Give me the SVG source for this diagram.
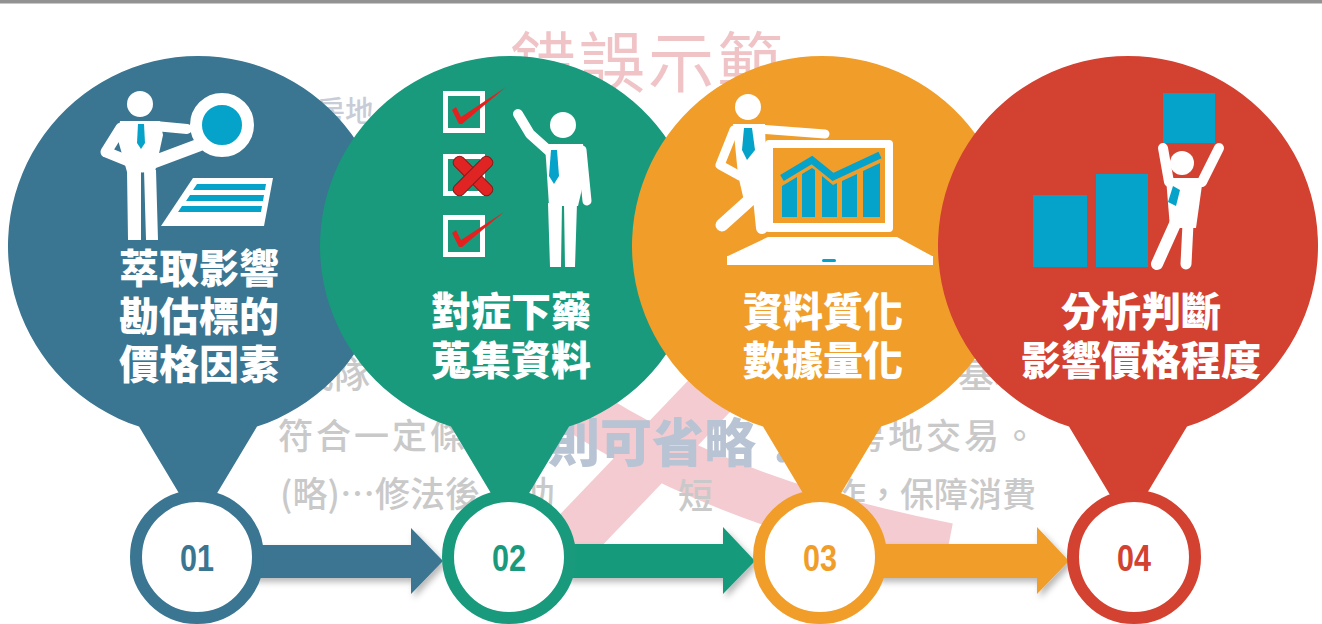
<svg xmlns="http://www.w3.org/2000/svg" width="1322" height="624" viewBox="0 0 1322 624">
  <defs>
    <style>
      .lbl { font-family: "Noto Sans CJK TC", "Noto Sans CJK SC", sans-serif; font-weight: 900; font-size: 40px; fill: #ffffff; text-anchor: middle; }
      .num { font-family: "Liberation Sans", Arial, sans-serif; font-weight: 700; font-size: 36px; text-anchor: middle; }
      .bg { font-family: "Noto Sans CJK TC", "Noto Sans CJK SC", sans-serif; font-weight: 500; fill: #c9c9c9; }
      .ring { fill: #ffffff; stroke-width: 12; }
      .w { fill: #ffffff; }
      .ws { fill: none; stroke: #ffffff; stroke-linecap: round; stroke-linejoin: round; }
      .acc { fill: #05a2c9; }
      .chk { fill: #e5211f; }
    </style>
    <filter id="shadow" x="-10%" y="-30%" width="130%" height="180%">
      <feDropShadow dx="3" dy="4" stdDeviation="3" flood-color="#000000" flood-opacity="0.28"/>
    </filter>
    <!-- balloon outline: circle plus a tapering tail, drawn around x = 0 -->
    <path id="balloon" d="M -59,426.6 L 0,525 L 59,426.6 A 190 190 0 1 0 -59,426.6 Z"/>
  </defs>

  <rect width="1322" height="624" fill="#ffffff"/>
  <rect x="0" y="0" width="1322" height="3.5" fill="#929292"/>

  <!-- faded backdrop -->
  <g id="backdrop">
    <path d="M 560,552 L 805,296" stroke="#f3cbd0" stroke-width="52" fill="none"/>
    <path d="M 545,385 Q 700,500 948,548" stroke="#f3cbd0" stroke-width="50" fill="none"/>
    <text x="510" y="87" font-family="Noto Sans CJK TC, Noto Sans CJK SC, sans-serif" font-size="66" letter-spacing="3" fill="#f0c4c7">錯誤示範</text>
    <text class="bg" x="316" y="122" font-size="29" style="fill:#c7ccd6">房地</text>
    <text class="bg" x="298" y="388" font-size="36">成隊</text>
    <text class="bg" x="958" y="388" font-size="36">基地</text>
    <text class="bg" x="278" y="449" font-size="35" letter-spacing="3">符合一定條</text>
    <text x="548" y="462" font-family="Noto Sans CJK TC, Noto Sans CJK SC, sans-serif" font-weight="900" font-size="52" fill="#b8c3d3">則可省略！</text>
    <text class="bg" x="812" y="449" font-size="35" letter-spacing="3">的房地交易。</text>
    <text class="bg" x="280" y="507" font-size="35">(略)…修法後</text>
    <text class="bg" x="520" y="507" font-size="35">助</text>
    <text class="bg" x="678" y="509" font-size="35">短</text>
    <text class="bg" x="832" y="507" font-size="34">作，保障消費</text>
  </g>

  <!-- connectors between the numbered rings -->
  <g id="connectors" filter="url(#shadow)">
    <path d="M 250,545 L 411,545 L 411,528 L 443,561 L 411,594 L 411,578 L 250,578 Z" fill="#3a7591"/>
    <path d="M 565,544 L 723,544 L 723,527 L 755,561 L 723,594 L 723,578 L 565,578 Z" fill="#199a7c"/>
    <path d="M 876,544 L 1037,544 L 1037,527 L 1069,561 L 1037,594 L 1037,578 L 876,578 Z" fill="#f09d2a"/>
  </g>

  <!-- step 1 -->
  <g id="step-1">
    <use href="#balloon" transform="translate(198,0)" fill="#3a7591"/>
    <circle class="ring" cx="197" cy="557" r="61" stroke="#3a7591"/>
    <text class="num" x="197" y="571" fill="#3a7591" textLength="34" lengthAdjust="spacingAndGlyphs">01</text>
    <!-- man with magnifier -->
    <circle class="w" cx="140" cy="104" r="13"/>
    <path class="w" d="M120,121 L160,121 L163,135 L155,172 L127,172 L118,140 Z"/>
    <polyline class="ws" points="121,128 106,152 138,165" stroke-width="11"/>
    <line class="ws" x1="155" y1="126" x2="187" y2="129" stroke-width="10"/>
    <path class="w" d="M127,170 L141,170 L141,240 L128,240 Z M144,170 L156,170 L158,240 L146,240 Z"/>
    <path class="acc" d="M138,124 L144,124 L145,143 L141,149 L137,143 Z"/>
    <line class="ws" x1="199" y1="145" x2="143" y2="166" stroke-width="13"/>
    <circle cx="222" cy="125" r="26" fill="#05a2c9" stroke="#ffffff" stroke-width="12"/>
    <path class="w" d="M193,178 L273,178 L264,226 L161,226 Z"/>
    <path class="acc" d="M197,184 L266,184 L265,190 L193,190 Z M190,195 L264,195 L263,201 L186,201 Z M182,206 L262,206 L261,212 L178,212 Z"/>
    <text class="lbl"><tspan x="199" y="283">萃取影響</tspan><tspan x="199" y="331">勘估標的</tspan><tspan x="199" y="379">價格因素</tspan></text>
  </g>

  <!-- step 2 -->
  <g id="step-2">
    <use href="#balloon" transform="translate(510,0)" fill="#199a7c"/>
    <circle class="ring" cx="509" cy="557" r="61" stroke="#199a7c"/>
    <text class="num" x="509" y="571" fill="#199a7c" textLength="34" lengthAdjust="spacingAndGlyphs">02</text>
    <!-- checklist -->
    <g fill="none" stroke="#ffffff" stroke-width="5">
      <rect x="445.5" y="93.5" width="37" height="37"/>
      <rect x="445.5" y="156.5" width="37" height="37"/>
      <rect x="445.5" y="217.5" width="37" height="37"/>
    </g>
    <path class="chk" d="M452,110 L456,107 L461,117 L506,87 L462,124 L459,124 Z"/>
    <path class="chk" d="M452,233 L456,230 L461,240 L504,212 L462,247 L459,247 Z"/>
    <g transform="translate(473,176)" fill="#e02424" stroke="#8a1a1a" stroke-width="1">
      <rect x="-25" y="-6" width="50" height="12" rx="5" transform="rotate(45)"/>
      <rect x="-25" y="-6" width="50" height="12" rx="5" transform="rotate(-45)"/>
    </g>
    <!-- man raising a hand -->
    <circle class="w" cx="563" cy="125" r="13"/>
    <path class="w" d="M545,144 L583,144 L586,172 L578,206 L549,206 Z"/>
    <polyline class="ws" points="549,151 530,134 518,114" stroke-width="10"/>
    <line class="ws" x1="582" y1="150" x2="587" y2="201" stroke-width="9"/>
    <path class="w" d="M548,203 L562,203 L561,267 L550,267 Z M564,203 L577,203 L575,267 L565,267 Z"/>
    <path class="acc" d="M551,150 L557,150 L559,176 L554,184 L549,176 Z"/>
    <text class="lbl"><tspan x="511" y="326">對症下藥</tspan><tspan x="511" y="375">蒐集資料</tspan></text>
  </g>

  <!-- step 3 -->
  <g id="step-3">
    <use href="#balloon" transform="translate(822,0)" fill="#f09d2a"/>
    <circle class="ring" cx="820" cy="557" r="61" stroke="#f09d2a"/>
    <text class="num" x="820" y="571" fill="#f09d2a" textLength="34" lengthAdjust="spacingAndGlyphs">03</text>
    <!-- laptop with chart -->
    <rect class="w" x="765" y="140" width="128" height="92" rx="4"/>
    <rect x="773" y="148" width="112" height="75" fill="#f09d2a"/>
    <polyline points="782,178 812,160 833,177 880,155" fill="none" stroke="#05a2c9" stroke-width="7"/>
    <path class="acc" d="M782,186 L797,177 L797,217 L782,217 Z M802,174 L812,168 L815,170 L815,217 L802,217 Z M822,176 L833,185 L837,183 L837,217 L822,217 Z M842,181 L857,174 L857,217 L842,217 Z M863,171 L880,163 L880,217 L863,217 Z"/>
    <path class="w" d="M768,237 L897,237 L932,256 L728,256 Z"/>
    <rect class="w" x="727" y="256" width="206" height="9"/>
    <rect class="acc" x="822" y="259" width="14" height="3" rx="1.5"/>
    <!-- man leaning on the screen -->
    <circle class="w" cx="748" cy="107" r="13"/>
    <path class="w" d="M733,124 L765,124 L767,200 L745,205 L738,175 Z"/>
    <line class="ws" x1="760" y1="129" x2="825" y2="134" stroke-width="9"/>
    <polyline class="ws" points="734,130 720,165 740,176" stroke-width="9"/>
    <line class="ws" x1="752" y1="198" x2="722" y2="225" stroke-width="13"/>
    <line class="ws" x1="759" y1="198" x2="762" y2="228" stroke-width="12"/>
    <path class="acc" d="M744,128 L752,128 L755,150 L747,160 L742,150 Z"/>
    <text class="lbl"><tspan x="823" y="326">資料質化</tspan><tspan x="823" y="375">數據量化</tspan></text>
  </g>

  <!-- step 4 -->
  <g id="step-4">
    <use href="#balloon" transform="translate(1128,0)" fill="#d34131"/>
    <circle class="ring" cx="1134" cy="557" r="61" stroke="#d34131"/>
    <text class="num" x="1134" y="571" fill="#d34131" textLength="34" lengthAdjust="spacingAndGlyphs">04</text>
    <!-- growing bars and a man lifting a block -->
    <rect class="acc" x="1033" y="195" width="54" height="72"/>
    <rect class="acc" x="1096" y="174" width="52" height="93"/>
    <rect class="acc" x="1163" y="93" width="52" height="50"/>
    <circle class="w" cx="1182" cy="163" r="12"/>
    <line class="ws" x1="1163" y1="148" x2="1169" y2="182" stroke-width="10"/>
    <line class="ws" x1="1219" y1="148" x2="1202" y2="182" stroke-width="10"/>
    <path class="w" d="M1166,178 L1203,178 L1196,228 L1170,228 Z"/>
    <line class="ws" x1="1175" y1="224" x2="1157" y2="264" stroke-width="12"/>
    <line class="ws" x1="1188" y1="224" x2="1186" y2="264" stroke-width="11"/>
    <path class="acc" d="M1173,186 L1180,190 L1176,206 L1168,202 Z"/>
    <text class="lbl"><tspan x="1141" y="326">分析判斷</tspan><tspan x="1141" y="375">影響價格程度</tspan></text>
  </g>
</svg>
